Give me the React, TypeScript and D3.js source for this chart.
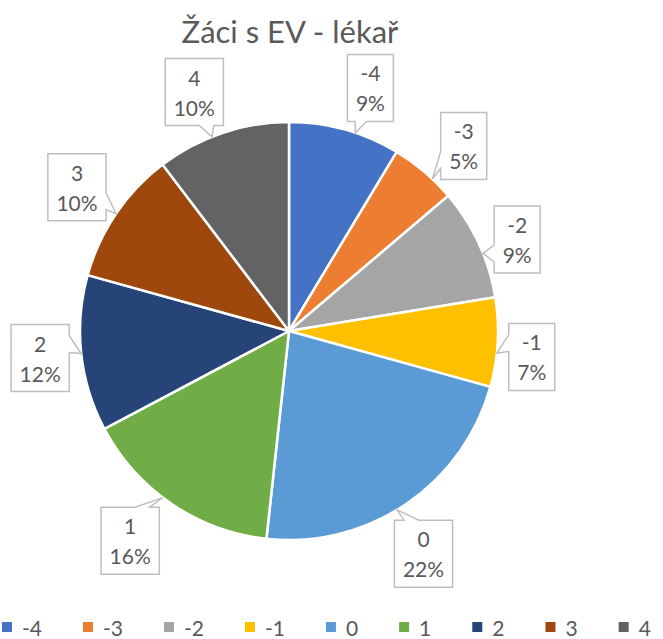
import React, { useMemo } from 'react';
import * as d3 from 'd3';

const title = 'Žáci s EV - lékař';
const categories = ['-4', '-3', '-2', '-1', '0', '1', '2', '3', '4'];
const counts = [5, 3, 5, 4, 13, 9, 7, 6, 6];
const colors = ['#4472C4', '#ED7D31', '#A5A5A5', '#FFC000', '#5B9BD5', '#70AD47', '#264478', '#9E480E', '#636363'];

const W = 663;
const H = 639;
const CX = 289;
const CY = 331;
const R = 209;
const FONT = 'Lato, "Open Sans", sans-serif';
const TEXT = '#595959';
const LABEL_SIZE = 21;
const LEGEND_SIZE = 21;

let ctx: CanvasRenderingContext2D | null = null;
function measure(text: string, size: number): number {
  if (!ctx) ctx = document.createElement('canvas').getContext('2d');
  if (!ctx) return text.length * size * 0.55;
  ctx.font = `${size}px Lato`;
  return ctx.measureText(text).width;
}

function calloutPath(L: number, T: number, w: number, h: number, tx: number, ty: number): string {
  const Rr = L + w, B = T + h;
  const mx = L + w / 2, my = T + h / 2;
  const dx = tx - mx, dy = ty - my;
  const horiz = Math.abs(dx) / w > Math.abs(dy) / h;
  const pts: [number, number][] = [];
  const tip: [number, number] = [tx, ty];
  pts.push([L, T]);
  if (!horiz && dy < 0) {
    if (dx < 0) pts.push([L + w / 6, T], tip, [L + (5 * w) / 12, T]);
    else pts.push([L + (7 * w) / 12, T], tip, [L + (5 * w) / 6, T]);
  }
  pts.push([Rr, T]);
  if (horiz && dx > 0) {
    if (dy < 0) pts.push([Rr, T + h / 6], tip, [Rr, T + (5 * h) / 12]);
    else pts.push([Rr, T + (7 * h) / 12], tip, [Rr, T + (5 * h) / 6]);
  }
  pts.push([Rr, B]);
  if (!horiz && dy >= 0) {
    if (dx >= 0) pts.push([L + (5 * w) / 6, B], tip, [L + (7 * w) / 12, B]);
    else pts.push([L + (5 * w) / 12, B], tip, [L + w / 6, B]);
  }
  pts.push([L, B]);
  if (horiz && dx <= 0) {
    if (dy >= 0) pts.push([L, T + (5 * h) / 6], tip, [L, T + (7 * h) / 12]);
    else pts.push([L, T + (5 * h) / 12], tip, [L, T + h / 6]);
  }
  return 'M' + pts.map((p) => p.join(',')).join('L') + 'Z';
}

export default function App() {
  const total = d3.sum(counts);
  const pct = d3.format('.0%');
  const arcs = useMemo(() => d3.pie<number>().sort(null).value((d) => d)(counts), []);
  const arcGen = d3.arc<d3.PieArcDatum<number>>().innerRadius(0).outerRadius(R);
  const deg = Math.PI / 180;

  const labels = arcs.map((a, i) => {
    const mid = (a.startAngle + a.endAngle) / 2;
    // push callouts slightly away from the 12 o'clock line, as Excel's layout does
    const theta = mid < 240 * deg ? mid + 3 * deg : mid > 320 * deg ? mid - 3 * deg : mid;
    const s = Math.sin(theta), c = Math.cos(theta);
    const l1 = categories[i];
    const l2 = pct(counts[i] / total);
    const bw = Math.max(measure(l1, LABEL_SIZE), measure(l2, LABEL_SIZE)) + 17;
    const bh = 67;
    const edge = Math.min(Math.abs(s) > 1e-6 ? bw / 2 / Math.abs(s) : 1e9, Math.abs(c) > 1e-6 ? bh / 2 / Math.abs(c) : 1e9);
    const d = R + 12 + edge;
    const bx = CX + d * s, by = CY - d * c;
    const tx = CX + R * s, ty = CY - R * c;
    const L = bx - bw / 2, T = by - bh / 2;
    return { l1, l2, L, T, bw, bh, bx, path: calloutPath(L, T, bw, bh, tx, ty) };
  });

  let lx = 2;
  const legend = categories.map((cat, i) => {
    const x = lx;
    const tw = measure(cat, LEGEND_SIZE);
    lx += 10 + 10 + tw + 41;
    return { cat, x, color: colors[i] };
  });

  return (
    <div style={{ position: 'absolute', left: 0, top: 0 }}>
      <svg width={W} height={H} style={{ display: 'block', background: '#fff' }} fontFamily={FONT}>
        <rect width={W} height={H} fill="#fff" />
        <text x={290} y={43} textAnchor="middle" fontSize={31} fill={TEXT}>
          {title}
        </text>
        <g transform={`translate(${CX},${CY})`}>
          {arcs.map((a, i) => (
            <path key={i} d={arcGen(a) || ''} fill={colors[i]} stroke="#fff" strokeWidth={2.5} strokeLinejoin="round" />
          ))}
        </g>
        {labels.map((lb, i) => (
          <g key={i}>
            <path d={lb.path} fill="#fff" stroke="#BFBFBF" strokeWidth={1.5} strokeLinejoin="miter" />
            <text x={lb.bx} y={lb.T + 27} textAnchor="middle" fontSize={LABEL_SIZE} fill={TEXT}>
              {lb.l1}
            </text>
            <text x={lb.bx} y={lb.T + 57} textAnchor="middle" fontSize={LABEL_SIZE} fill={TEXT}>
              {lb.l2}
            </text>
          </g>
        ))}
        {legend.map((lg, i) => (
          <g key={i}>
            <rect x={lg.x} y={622} width={10} height={10} fill={lg.color} />
            <text x={lg.x + 20} y={636} fontSize={LEGEND_SIZE} fill={TEXT}>
              {lg.cat}
            </text>
          </g>
        ))}
      </svg>
    </div>
  );
}
